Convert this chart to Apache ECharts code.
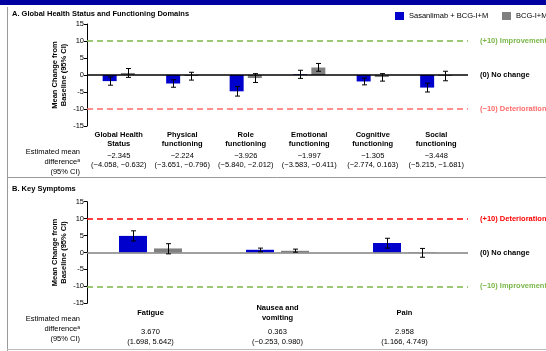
<!DOCTYPE html>
<html>
<head>
<meta charset="utf-8">
<script src="https://cdn.jsdelivr.net/npm/echarts@6/dist/echarts.min.js"></script>
<style>
  html, body { margin: 0; padding: 0; background: #fff; }
  #chart { width: 546px; height: 351px; }
</style>
</head>
<body>
<div id="chart"></div>
<script>
// ---- Data: global health status and functioning domains ----
const domainLabels = ['Global Health\nStatus', 'Physical\nfunctioning', 'Role\nfunctioning',
  'Emotional\nfunctioning', 'Cognitive\nfunctioning', 'Social\nfunctioning'];
const domainEstimates = ['\u22122.345\n(\u22124.058, \u22120.632)', '\u22122.224\n(\u22123.651, \u22120.796)',
  '\u22123.926\n(\u22125.840, \u22122.012)', '\u22121.997\n(\u22123.583, \u22120.411)',
  '\u22121.305\n(\u22122.774, 0.163)', '\u22123.448\n(\u22125.215, \u22121.681)'];
const domainSasMean = [-1.8, -2.5, -4.8, 0.2, -1.9, -3.7];
const domainSasLow  = [-3.0, -3.6, -6.2, -1.0, -2.9, -5.0];
const domainSasHigh = [-0.6, -1.4, -3.4, 1.4, -0.9, -2.4];
const domainBcgMean = [0.6, -0.3, -0.9, 2.2, -0.6, -0.3];
const domainBcgLow  = [-0.7, -1.5, -2.2, 1.1, -1.8, -1.7];
const domainBcgHigh = [1.9, 0.8, 0.4, 3.4, 0.4, 1.1];

// ---- Data: key symptoms ----
const symptomLabels = ['Fatigue', 'Nausea and\nvomiting', 'Pain'];
const symptomEstimates = ['3.670\n(1.698, 5.642)', '0.363\n(\u22120.253, 0.980)', '2.958\n(1.166, 4.749)'];
const symptomSasMean = [4.9, 0.8, 2.8];
const symptomSasLow  = [3.4, 0.2, 1.3];
const symptomSasHigh = [6.4, 1.3, 4.2];
const symptomBcgMean = [1.2, 0.5, -0.1];
const symptomBcgLow  = [-0.4, 0.1, -1.4];
const symptomBcgHigh = [2.6, 1.0, 1.2];

const yTicks = [-15, -10, -5, 0, 5, 10, 15];
const armNames = ['Sasanlimab + BCG-I+M', 'BCG-I+M'];

// ---- Styling ----
const FONT = "'Liberation Sans', Arial, sans-serif";
const BLUE = '#0000CC';
const GRAY = '#808080';
const GREEN = '#7AB648';
const RED_SOFT = '#FF6A6A';
const RED = '#FF0000';

const barA = { width: 14, gapPct: 30 };
const barB = { width: 28, gapPct: 25 };
function sideOffset(b) { return (b.width + b.width * b.gapPct / 100) / 2; }

function errorSeries(axisIdx, low, high, offset) {
  return {
    type: 'custom', xAxisIndex: axisIdx * 2, yAxisIndex: axisIdx, z: 6, silent: true,
    data: low.map((l, i) => [i, l, high[i]]),
    encode: { x: 0, y: [1, 2] },
    renderItem: function (params, api) {
      const lo = api.coord([api.value(0), api.value(1)]);
      const hi = api.coord([api.value(0), api.value(2)]);
      const x = Math.round(lo[0] + offset) + 0.5;
      const cap = 2.5;
      const st = { stroke: '#000', lineWidth: 1 };
      return { type: 'group', children: [
        { type: 'line', shape: { x1: x, y1: lo[1], x2: x, y2: hi[1] }, style: st },
        { type: 'line', shape: { x1: x - cap, y1: lo[1], x2: x + cap, y2: lo[1] }, style: st },
        { type: 'line', shape: { x1: x - cap, y1: hi[1], x2: x + cap, y2: hi[1] }, style: st }
      ]};
    }
  };
}

function refLines(upperText, upperColor, lowerText, lowerColor, zeroColor) {
  const lbl = { position: 'end', distance: 12, fontWeight: 'bold', fontSize: 7.5, fontFamily: FONT };
  return {
    symbol: 'none', silent: true, animation: false,
    label: lbl,
    data: [
      { yAxis: 10, lineStyle: { color: upperColor, type: [6, 4], width: 1.5 },
        label: Object.assign({}, lbl, { formatter: upperText, color: upperColor }) },
      { yAxis: 0, lineStyle: { color: zeroColor, type: 'solid', width: 1.5 },
        label: Object.assign({}, lbl, { formatter: '(0) No change', color: '#000' }) },
      { yAxis: -10, lineStyle: { color: lowerColor, type: [6, 4], width: 1.5 },
        label: Object.assign({}, lbl, { formatter: lowerText, color: lowerColor }) }
    ]
  };
}

function yAxisDef(gridIndex) {
  return {
    type: 'value', gridIndex: gridIndex, min: -15, max: 15, interval: 5,
    splitLine: { show: false },
    axisLine: { show: true, lineStyle: { color: '#000', width: 1 } },
    axisTick: { show: true, length: 3, lineStyle: { color: '#000' } },
    axisLabel: { fontSize: 7.5, color: '#000', fontFamily: FONT, margin: 3,
      formatter: v => yTicks.includes(v) ? String(v) : '' },
    name: 'Mean Change from\nBaseline (95% CI)', nameLocation: 'middle', nameGap: 19,
    nameMoveOverlap: false,
    nameTextStyle: { fontSize: 7.5, fontWeight: 'bold', color: '#000', fontFamily: FONT, lineHeight: 8.5 }
  };
}

function catAxis(gridIndex, labels, labelOpts) {
  return Object.assign({
    type: 'category', gridIndex: gridIndex, data: labels, position: 'bottom',
    axisLine: { show: false, onZero: false }, axisTick: { show: false },
    splitLine: { show: false }
  }, labelOpts);
}

function legendDef(name, left) {
  return {
    data: [name], left: left, top: 12, padding: 0, itemWidth: 9, itemHeight: 8, icon: 'rect',
    textStyle: { fontSize: 7.5, color: '#000', fontFamily: FONT }
  };
}

const chart = echarts.init(document.getElementById('chart'), null, { renderer: 'canvas' });

const option = {
  animation: false,
  textStyle: { fontFamily: FONT },
  grid: [
    { left: 87, right: 78, top: 24, height: 102 },
    { left: 87, right: 78, top: 201.7, height: 101.6 }
  ],
  legend: [legendDef(armNames[0], 395), legendDef(armNames[1], 502)],
  xAxis: [
    catAxis(0, domainLabels, { axisLabel: { fontSize: 7.5, fontWeight: 'bold', color: '#000',
      lineHeight: 9, margin: 4, interval: 0, fontFamily: FONT } }),
    catAxis(0, domainEstimates, { offset: 22, axisLabel: { fontSize: 7.5, color: '#000',
      lineHeight: 9.5, margin: 3, interval: 0, fontFamily: FONT } }),
    catAxis(1, symptomLabels, { axisLabel: { fontSize: 7.5, fontWeight: 'bold', color: '#000',
      lineHeight: 10, margin: 10, verticalAlign: 'middle', interval: 0, fontFamily: FONT } }),
    catAxis(1, symptomEstimates, { offset: 20, axisLabel: { fontSize: 7.5, color: '#000',
      lineHeight: 9.5, margin: 4, interval: 0, fontFamily: FONT } })
  ],
  yAxis: [yAxisDef(0), yAxisDef(1)],
  series: [
    { type: 'bar', name: armNames[0], xAxisIndex: 0, yAxisIndex: 0, data: domainSasMean,
      barWidth: barA.width, barGap: barA.gapPct + '%', itemStyle: { color: BLUE },
      markLine: refLines('(+10) Improvement', GREEN, '(\u221210) Deterioration', RED_SOFT, '#000') },
    { type: 'bar', name: armNames[1], xAxisIndex: 0, yAxisIndex: 0, data: domainBcgMean,
      barWidth: barA.width, barGap: barA.gapPct + '%', itemStyle: { color: GRAY } },
    errorSeries(0, domainSasLow, domainSasHigh, -sideOffset(barA)),
    errorSeries(0, domainBcgLow, domainBcgHigh, sideOffset(barA)),

    { type: 'bar', name: armNames[0], xAxisIndex: 2, yAxisIndex: 1, data: symptomSasMean,
      barWidth: barB.width, barGap: barB.gapPct + '%', itemStyle: { color: BLUE },
      markLine: refLines('(+10) Deterioration', RED, '(\u221210) Improvement', GREEN, GRAY) },
    { type: 'bar', name: armNames[1], xAxisIndex: 2, yAxisIndex: 1, data: symptomBcgMean,
      barWidth: barB.width, barGap: barB.gapPct + '%', itemStyle: { color: GRAY } },
    errorSeries(1, symptomSasLow, symptomSasHigh, -sideOffset(barB)),
    errorSeries(1, symptomBcgLow, symptomBcgHigh, sideOffset(barB))
  ],
  graphic: [
    { type: 'rect', shape: { x: 0, y: 0, width: 546, height: 5 }, style: { fill: '#0000A0' }, silent: true },
    { type: 'line', shape: { x1: 7.5, y1: 7, x2: 7.5, y2: 351 }, style: { stroke: '#9a9a9a', lineWidth: 1 }, silent: true },
    { type: 'line', shape: { x1: 7, y1: 177.5, x2: 546, y2: 177.5 }, style: { stroke: '#9a9a9a', lineWidth: 1 }, silent: true },
    { type: 'line', shape: { x1: 7, y1: 349.5, x2: 546, y2: 349.5 }, style: { stroke: '#bbbbbb', lineWidth: 1 }, silent: true },
    { type: 'text', left: 12, top: 10, style: { text: 'A. Global Health Status and Functioning Domains',
      fontSize: 7.5, fontWeight: 'bold', fill: '#000', fontFamily: FONT } },
    { type: 'text', left: 12, top: 185, style: { text: 'B. Key Symptoms',
      fontSize: 7.5, fontWeight: 'bold', fill: '#000', fontFamily: FONT } },
    { type: 'text', x: 80, y: 147.5, style: { text: 'Estimated mean\ndifference\u1d43\n(95% CI)',
      fontSize: 7.5, fill: '#000', align: 'right', verticalAlign: 'top', lineHeight: 9.7, fontFamily: FONT } },
    { type: 'text', x: 80, y: 314, style: { text: 'Estimated mean\ndifference\u1d43\n(95% CI)',
      fontSize: 7.5, fill: '#000', align: 'right', verticalAlign: 'top', lineHeight: 10, fontFamily: FONT } }
  ]
};

chart.setOption(option);
</script>
</body>
</html>
